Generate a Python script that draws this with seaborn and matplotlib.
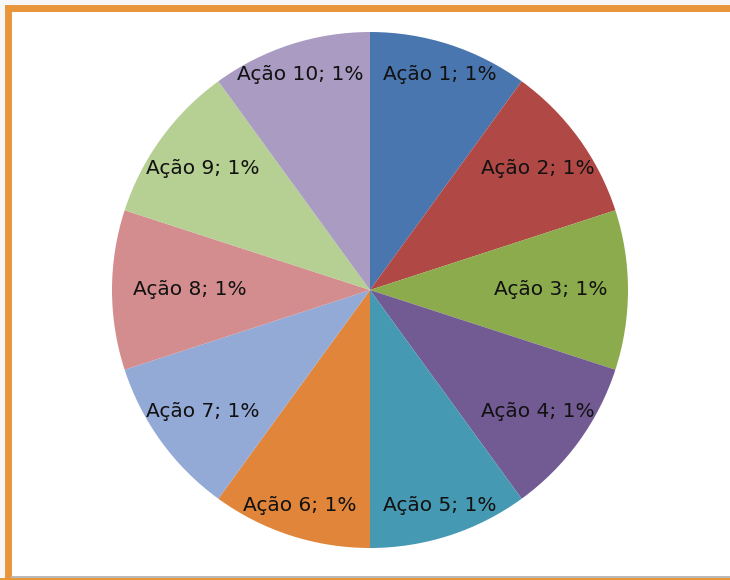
import matplotlib
matplotlib.use("Agg")
import matplotlib.pyplot as plt
import seaborn as sns
from matplotlib.patches import Rectangle
import numpy as np

categories = ["Ação 1", "Ação 2", "Ação 3", "Ação 4", "Ação 5",
              "Ação 6", "Ação 7", "Ação 8", "Ação 9", "Ação 10"]
values = [1, 1, 1, 1, 1, 1, 1, 1, 1, 1]
pct_labels = ["1%", "1%", "1%", "1%", "1%", "1%", "1%", "1%", "1%", "1%"]
colors = ["#4A76B0", "#B04845", "#8CAB4D", "#725A92", "#4699B2",
          "#E0853A", "#94AAD6", "#D38D8E", "#B6CF92", "#A99BC2"]

sns.set_theme(style="white")
plt.rcParams['font.family'] = ['DejaVu Sans']

W, H = 730, 580
fig = plt.figure(figsize=(W / 100, H / 100), dpi=100, facecolor="#f7f7f7")

# frame
fig.patches.append(Rectangle((8 / W, 0), 1.2, (H - 8) / H, transform=fig.transFigure,
                             facecolor="white", edgecolor="#E9953B", linewidth=5, zorder=-3))
fig.patches.append(Rectangle((11 / W, 2.5 / H), 1.2, 1.5 / H, transform=fig.transFigure,
                             facecolor="#b9b9b9", edgecolor="none", zorder=-2))
fig.patches.append(Rectangle((0, 0), 1.2, 1.8 / H, transform=fig.transFigure,
                             facecolor="#E9953B", edgecolor="none", zorder=-2))

cx, cy, r = 370, 290, 258
ax = fig.add_axes([(cx - r) / W, (H - cy - r) / H, 2 * r / W, 2 * r / H])
ax.set_zorder(5)
ax.set_facecolor("none")

wedges, _ = ax.pie(values, colors=colors, startangle=90, counterclock=False,
                   wedgeprops=dict(linewidth=0))
ax.set_aspect("equal")
ax.set_xlim(-1, 1)
ax.set_ylim(-1, 1)
ax.axis("off")

for w, cat, p in zip(wedges, categories, pct_labels):
    mid = np.deg2rad((w.theta1 + w.theta2) / 2)
    horiz = abs(np.cos(mid))
    dist = 0.88 - 0.18 * horiz ** 4
    ax.text(dist * np.cos(mid), dist * np.sin(mid), f"{cat}; {p}",
            ha="center", va="center", fontsize=14.5, color="#111111")

fig.savefig("out.png", dpi=100, facecolor=fig.get_facecolor())
